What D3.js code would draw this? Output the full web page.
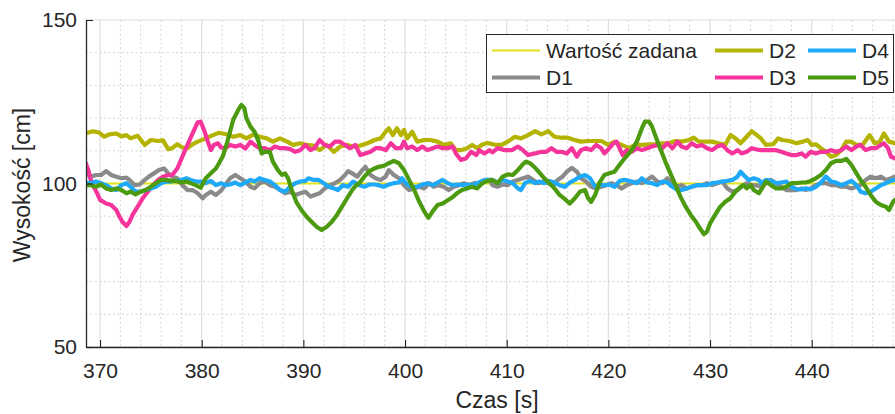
<!DOCTYPE html>
<html>
<head>
<meta charset="utf-8">
<script src="https://cdn.jsdelivr.net/npm/d3@7"></script>
<style>
  html, body { margin: 0; padding: 0; background: #fff; }
  svg { display: block; font-family: "Liberation Sans", Arial, Helvetica, sans-serif; }
</style>
</head>
<body>
<svg id="chart" width="895" height="414"></svg>
<script>
// Tick labels
const xTicks = [370, 380, 390, 400, 410, 420, 430, 440];
const yTicks = [50, 100, 150];

// Legend labels (column-major order, as in the legend box)
const seriesNames = ["Wartość zadana", "D1", "D2", "D3", "D4", "D5"];

// Set point [s, cm]
const setpoint = [[368.6, 100], [449.5, 100]];

// D1 [s, cm]
const d1 = [
  [368.6,103.4],[369.1,102.1],[369.6,102.6],[370.1,102.6],[370.6,103.8],[371.1,102.6],[371.6,102.1],
  [372.1,101.6],[372.6,101.8],[372.9,101.1],[373.4,99.5],[373.9,99.7],[374.4,101.1],[374.8,102.1],
  [375.3,103.1],[375.8,104.1],[376.3,104.6],[376.7,103.1],[377.1,102.1],[377.6,101.6],[378.1,99.5],
  [378.6,98.0],[379.1,98.0],[379.6,97.0],[380.1,95.5],[380.4,96.5],[380.9,97.5],[381.4,96.5],
  [381.9,97.8],[382.3,99.5],[382.8,101.6],[383.3,102.6],[383.8,101.6],[384.3,100.6],[384.8,99.0],
  [385.2,98.5],[385.7,100.1],[386.2,100.6],[386.7,99.5],[387.2,99.0],[387.7,98.0],[388.2,97.0],
  [388.7,97.5],[389.2,96.5],[389.7,97.0],[390.2,97.5],[390.7,96.0],[391.1,96.5],[391.6,97.0],
  [392.1,98.5],[392.6,99.5],[393.1,100.1],[393.6,101.1],[394.1,102.6],[394.4,103.8],[394.8,103.1],
  [395.3,102.1],[395.8,104.1],[396.1,105.1],[396.6,102.6],[397.1,101.6],[397.6,101.1],[398.1,102.1],
  [398.4,104.1],[398.9,102.6],[399.4,101.6],[399.9,99.5],[400.4,98.0],[400.9,98.5],[401.4,99.0],
  [401.9,98.5],[402.4,100.1],[402.8,99.0],[403.3,99.5],[403.8,99.0],[404.3,98.0],[404.8,99.0],
  [405.3,99.5],[405.8,100.1],[406.3,99.5],[406.8,100.1],[407.3,100.1],[407.8,101.1],[408.3,101.0],
  [408.6,99.5],[409.1,99.0],[409.6,99.7],[410.1,99.5],[410.6,100.6],[411.1,101.1],[411.6,101.6],
  [412.1,102.1],[412.6,101.1],[413.1,100.1],[413.6,100.6],[414.1,100.1],[414.6,99.5],[415.0,101.1],
  [415.5,102.1],[415.9,103.6],[416.4,104.8],[416.9,103.6],[417.3,101.6],[417.8,100.6],[418.3,99.0],
  [418.8,98.5],[419.3,99.0],[419.8,99.5],[420.3,100.1],[420.8,99.5],[421.3,98.5],[421.8,99.5],
  [422.3,100.1],[422.8,100.6],[423.3,100.1],[423.8,101.1],[424.3,102.1],[424.8,100.6],[425.3,100.1],
  [425.8,101.6],[426.3,100.1],[426.8,99.0],[427.2,99.5],[427.7,98.5],[428.2,99.0],[428.7,99.5],
  [429.2,99.5],[429.7,100.1],[430.2,99.5],[430.7,100.1],[431.2,100.6],[431.7,98.5],[432.2,97.5],
  [432.7,98.0],[433.1,99.0],[433.6,100.1],[434.1,99.5],[434.6,99.4],[435.0,99.0],[435.5,100.1],
  [436.0,101.1],[436.5,100.1],[437.0,99.0],[437.5,98.0],[438.0,98.0],[438.5,98.0],[439.0,98.5],
  [439.4,98.0],[439.9,98.5],[440.4,99.5],[440.9,100.1],[441.4,100.1],[441.9,99.5],[442.4,99.5],
  [442.9,99.0],[443.4,99.0],[443.9,98.5],[444.4,99.0],[444.8,99.5],[445.3,101.1],[445.8,102.1],
  [446.3,101.6],[446.8,102.1],[447.3,101.1],[447.8,101.6],[448.2,102.1]
];

// D2 [s, cm]
const d2 = [
  [368.6,115.4],[369.3,116.0],[369.9,115.6],[370.4,114.3],[370.9,115.0],[371.6,115.3],[372.1,114.4],
  [372.6,114.8],[373.0,113.8],[373.7,114.6],[374.4,111.8],[375.0,113.3],[375.7,113.0],[376.2,113.2],
  [376.7,110.5],[377.1,110.8],[377.6,112.0],[378.1,111.0],[378.6,110.8],[379.1,112.0],[379.6,112.8],
  [380.4,113.8],[381.1,114.8],[381.7,115.5],[382.5,115.0],[383.1,114.3],[383.8,114.8],[384.4,113.8],
  [385.1,115.0],[385.7,114.3],[386.4,113.8],[387.0,112.8],[387.7,113.8],[388.4,112.8],[389.0,111.8],
  [389.7,112.3],[390.3,111.8],[391.0,111.6],[391.6,110.2],[392.3,111.8],[393.0,109.7],[393.6,111.3],
  [394.3,111.8],[394.9,111.3],[395.6,111.6],[396.3,112.3],[397.0,113.3],[397.6,113.8],[398.1,115.8],
  [398.4,116.9],[398.8,114.8],[399.2,116.9],[399.6,114.8],[399.9,116.4],[400.2,113.8],[400.7,115.8],
  [401.2,112.8],[401.9,113.3],[402.5,113.3],[403.2,112.8],[403.8,111.8],[404.5,112.3],[405.0,110.2],
  [405.5,110.2],[406.1,110.8],[406.6,111.8],[407.1,110.8],[407.6,111.9],[408.1,112.4],[408.8,111.9],
  [409.5,111.8],[410.1,112.8],[410.8,114.3],[411.4,113.8],[412.1,114.8],[412.8,116.0],[413.4,115.0],
  [414.1,116.0],[414.7,114.3],[415.4,114.0],[416.0,114.0],[416.7,113.3],[417.3,112.8],[418.0,113.0],
  [418.7,113.0],[419.3,113.0],[420.0,111.8],[420.6,112.8],[421.3,111.8],[422.0,110.9],[422.7,111.8],
  [423.3,111.8],[424.0,112.0],[424.6,112.0],[425.3,112.3],[425.9,112.3],[426.6,113.0],[427.2,112.8],
  [427.9,113.3],[428.4,114.0],[428.9,112.8],[429.5,112.8],[430.2,112.8],[430.8,112.3],[431.5,111.8],
  [432.0,114.8],[432.5,113.8],[433.0,112.3],[433.6,114.3],[434.1,116.0],[434.6,114.8],[435.0,113.8],
  [435.5,111.8],[436.2,112.0],[436.7,113.8],[437.1,113.3],[437.8,113.0],[438.5,112.3],[439.1,112.8],
  [439.6,113.3],[440.0,111.8],[440.4,112.0],[440.9,110.8],[441.4,109.7],[441.9,108.2],[442.4,108.7],
  [442.9,110.2],[443.4,112.8],[443.9,112.8],[444.4,111.8],[445.0,111.8],[445.7,114.8],[446.2,112.3],
  [446.7,112.8],[447.1,115.3],[447.6,112.8],[448.2,112.3]
];

// D3 [s, cm]
const d3s = [
  [368.6,106.2],[368.9,103.6],[369.0,102.0],[369.3,99.5],[369.7,97.1],[370.0,95.0],[370.6,93.9],
  [371.1,93.4],[371.6,91.9],[371.9,89.9],[372.2,88.3],[372.6,87.0],[372.9,88.3],[373.2,90.4],
  [373.7,92.9],[374.2,95.5],[374.7,97.5],[375.2,99.5],[375.7,101.1],[376.2,102.1],[376.7,102.6],
  [377.1,102.6],[377.6,104.6],[378.1,108.2],[378.6,111.8],[379.1,115.3],[379.6,118.7],[379.9,118.9],
  [380.3,115.8],[380.6,112.8],[380.9,110.2],[381.2,111.8],[381.6,112.3],[381.9,111.0],[382.3,110.8],
  [382.8,111.8],[383.3,111.3],[383.8,111.8],[384.3,110.7],[384.8,112.8],[385.2,111.8],[385.7,110.8],
  [386.2,110.8],[386.7,110.2],[387.2,111.3],[387.7,110.8],[388.2,110.8],[388.7,110.5],[389.2,109.7],
  [389.7,110.2],[390.2,111.8],[390.7,110.2],[391.1,110.8],[391.6,113.3],[392.1,111.8],[392.6,111.3],
  [393.1,112.8],[393.6,112.8],[394.1,111.8],[394.6,110.8],[395.1,111.8],[395.6,108.7],[396.1,109.2],
  [396.6,109.7],[397.1,110.8],[397.6,110.8],[398.1,110.2],[398.6,112.3],[399.1,110.8],[399.6,110.8],
  [399.9,112.8],[400.2,110.8],[400.7,111.3],[401.2,110.2],[401.7,111.3],[402.2,110.2],[402.7,110.8],
  [403.2,111.3],[403.7,110.8],[404.2,110.8],[404.7,111.3],[405.0,109.2],[405.5,107.2],[406.0,107.7],
  [406.5,109.7],[407.0,108.7],[407.3,110.2],[407.8,109.2],[408.3,110.2],[408.6,109.5],[409.1,110.8],
  [409.8,110.2],[410.5,110.2],[411.1,111.3],[411.6,110.2],[412.1,108.7],[412.8,109.2],[413.4,109.7],
  [413.9,109.7],[414.4,110.8],[414.9,109.7],[415.4,109.7],[415.9,109.2],[416.4,110.8],[416.9,108.2],
  [417.3,110.2],[417.8,110.8],[418.3,110.2],[418.8,111.8],[419.3,110.8],[419.6,109.2],[420.1,110.8],
  [420.5,112.3],[420.8,112.8],[421.1,110.8],[421.4,108.7],[421.8,110.2],[422.3,109.7],[422.8,110.8],
  [423.3,110.2],[423.8,110.8],[424.3,111.3],[424.8,111.8],[425.3,110.8],[425.8,112.3],[426.3,110.8],
  [426.8,112.8],[427.2,111.3],[427.7,110.8],[428.2,112.3],[428.7,111.3],[429.2,111.8],[429.7,110.8],
  [430.2,110.2],[430.7,111.3],[431.2,111.8],[431.7,110.2],[432.2,109.2],[432.7,110.2],[433.1,109.2],
  [433.6,109.7],[434.1,110.8],[434.6,110.4],[435.0,110.2],[435.5,110.2],[436.0,110.2],[436.5,110.2],
  [437.0,109.7],[437.5,109.2],[438.0,108.7],[438.5,108.7],[439.0,109.2],[439.4,108.2],[439.9,109.7],
  [440.4,109.2],[440.9,109.7],[441.4,109.7],[441.9,110.2],[442.4,109.7],[442.9,110.2],[443.4,111.3],
  [443.9,110.2],[444.4,111.3],[444.8,111.8],[445.3,110.2],[445.8,110.8],[446.3,110.8],[446.8,111.8],
  [447.1,112.3],[447.5,110.8],[447.8,108.2],[448.2,107.7]
];

// D4 [s, cm]
const d4 = [
  [368.6,100.3],[369.1,100.1],[369.6,100.6],[370.1,100.1],[370.6,99.5],[371.1,98.5],[371.6,98.0],
  [372.1,99.5],[372.6,100.1],[373.0,99.0],[373.5,97.5],[374.0,97.5],[374.5,98.0],[375.0,98.5],
  [375.5,99.0],[376.0,100.1],[376.5,100.6],[377.0,100.6],[377.5,100.8],[378.0,101.1],[378.5,101.6],
  [378.9,101.1],[379.4,100.6],[379.9,100.6],[380.4,100.1],[380.9,100.8],[381.4,99.5],[381.9,100.1],
  [382.3,99.5],[382.8,99.7],[383.3,100.3],[383.8,99.5],[384.3,100.3],[384.8,101.1],[385.2,100.6],
  [385.7,101.6],[386.2,101.1],[386.7,100.6],[387.2,99.5],[387.7,98.0],[388.2,97.5],[388.7,99.0],
  [389.2,100.1],[389.7,100.6],[390.2,100.8],[390.5,101.6],[391.0,101.1],[391.5,101.1],[392.0,100.1],
  [392.5,99.0],[393.0,98.5],[393.4,98.0],[393.9,99.5],[394.4,99.0],[394.9,100.6],[395.5,99.5],
  [396.0,99.0],[396.5,99.7],[397.0,99.7],[397.4,99.5],[397.9,99.0],[398.4,99.7],[398.9,100.1],
  [399.4,100.3],[399.7,101.6],[400.2,99.7],[400.7,99.0],[401.2,99.0],[401.7,99.7],[402.2,100.1],
  [402.7,99.5],[403.2,100.3],[403.7,101.1],[404.2,100.1],[404.7,99.5],[405.1,99.7],[405.6,99.5],
  [406.1,99.7],[406.6,99.5],[407.1,100.1],[407.6,100.8],[408.1,101.1],[408.6,101.1],[409.1,100.3],
  [409.6,101.1],[410.1,100.6],[410.6,100.1],[411.1,98.5],[411.4,98.0],[411.8,100.1],[412.3,100.8],
  [412.8,100.1],[413.2,100.6],[413.7,100.1],[414.2,100.8],[414.7,100.3],[415.2,99.5],[415.7,99.0],
  [416.2,100.3],[416.7,101.1],[417.2,102.1],[417.7,102.6],[418.2,101.6],[418.7,99.0],[419.1,99.5],
  [419.6,99.5],[420.1,99.7],[420.6,99.0],[421.1,100.8],[421.6,101.1],[422.3,100.6],[422.8,100.1],
  [423.3,101.6],[423.8,100.3],[424.3,100.1],[424.8,99.5],[425.3,100.6],[425.8,100.3],[426.3,99.0],
  [426.8,98.0],[427.2,98.0],[427.7,98.5],[428.2,99.0],[428.7,99.5],[429.2,99.5],[429.7,99.5],
  [430.2,100.1],[430.7,100.3],[431.2,100.6],[431.7,100.8],[432.2,101.1],[432.7,102.1],[433.0,103.6],
  [433.3,102.6],[433.8,101.1],[434.3,101.6],[434.8,101.1],[435.0,100.1],[435.5,101.1],[436.0,100.8],
  [436.5,100.1],[437.0,100.3],[437.5,100.6],[438.0,99.0],[438.5,98.3],[439.0,98.2],[439.4,98.5],
  [439.9,98.2],[440.4,99.0],[440.9,100.3],[441.4,102.1],[441.9,100.6],[442.4,100.3],[442.9,99.5],
  [443.4,100.1],[443.9,100.8],[444.4,99.5],[444.8,97.5],[445.3,97.0],[445.8,97.5],[446.3,98.5],
  [446.8,99.5],[447.3,100.1],[447.8,100.8],[448.2,101.1]
];

// D5 [s, cm]
const d5 = [
  [368.6,99.5],[369.1,99.5],[369.6,99.0],[370.1,99.7],[370.6,98.5],[371.1,98.0],[371.6,98.5],
  [372.1,98.0],[372.6,97.0],[373.0,97.5],[373.5,96.7],[374.0,97.5],[374.5,98.0],[375.0,99.0],
  [375.5,100.1],[376.0,101.1],[376.5,101.1],[377.0,100.8],[377.5,100.8],[378.0,100.3],[378.5,100.6],
  [378.9,100.1],[379.4,99.5],[379.9,98.7],[380.4,101.6],[380.9,103.1],[381.4,104.6],[381.7,106.2],
  [382.1,108.5],[382.5,112.5],[382.8,116.0],[383.1,119.5],[383.6,122.5],[383.9,124.0],[384.2,123.0],
  [384.4,119.9],[384.8,117.4],[385.2,115.8],[385.6,112.8],[385.9,109.2],[386.2,109.7],[386.7,109.7],
  [387.0,106.7],[387.5,104.1],[387.9,102.6],[388.2,103.1],[388.5,101.6],[388.8,98.5],[389.3,94.4],
  [389.8,91.9],[390.3,89.9],[390.8,88.3],[391.3,86.8],[391.8,85.8],[392.3,86.8],[392.8,88.3],
  [393.3,90.4],[393.8,92.9],[394.3,95.5],[394.8,98.0],[395.2,99.5],[395.5,100.1],[396.0,102.1],
  [396.5,103.8],[397.0,104.6],[397.4,105.1],[397.9,105.4],[398.4,106.2],[398.9,106.9],[399.4,106.2],
  [399.9,104.1],[400.4,101.1],[400.9,98.0],[401.4,94.4],[401.9,91.4],[402.3,89.5],[402.7,91.4],
  [403.2,93.4],[403.7,93.9],[404.2,94.9],[404.7,95.9],[405.1,97.0],[405.6,98.0],[406.1,98.5],
  [406.6,99.0],[407.1,98.5],[407.6,100.1],[408.1,100.8],[408.6,101.1],[409.1,100.1],[409.6,102.1],
  [410.1,102.8],[410.6,102.6],[411.1,104.1],[411.6,105.9],[411.9,106.7],[412.3,106.2],[412.8,104.8],
  [413.2,103.4],[413.7,101.6],[414.2,100.1],[414.7,98.5],[415.2,96.5],[415.7,95.3],[416.2,93.9],
  [416.7,95.5],[417.2,97.5],[417.7,98.0],[418.0,95.5],[418.3,94.4],[418.7,96.5],[419.1,100.1],
  [419.6,102.6],[420.1,103.1],[420.6,103.6],[421.1,105.7],[421.6,107.7],[422.3,110.2],[422.8,112.8],
  [423.3,116.9],[423.6,118.9],[424.0,118.9],[424.3,117.4],[424.6,114.8],[425.1,110.7],[425.6,106.7],
  [426.1,103.1],[426.6,99.5],[427.1,95.9],[427.6,92.9],[428.1,90.4],[428.6,88.3],[429.0,86.3],
  [429.4,84.5],[429.7,85.3],[430.0,87.8],[430.5,90.4],[431.0,92.9],[431.5,94.4],[432.0,95.5],
  [432.5,97.5],[433.0,99.0],[433.3,99.5],[433.6,98.5],[434.0,99.5],[434.3,98.0],[434.8,97.0],
  [435.2,99.0],[435.5,100.6],[436.0,99.5],[436.5,98.5],[437.0,98.5],[437.5,99.0],[438.0,100.1],
  [438.5,100.1],[439.0,100.3],[439.4,100.3],[439.9,100.8],[440.4,101.6],[440.9,102.6],[441.4,104.1],
  [441.9,106.2],[442.4,106.9],[442.9,106.9],[443.4,107.5],[443.9,105.7],[444.4,103.1],[444.8,101.1],
  [445.3,99.0],[445.8,96.5],[446.3,94.4],[446.8,93.4],[447.3,92.9],[447.6,91.9],[448.0,94.4],
  [448.2,95.0]
];

const seriesData = [setpoint, d1, d2, d3s, d4, d5];
const seriesColors = ["#e2e21c", "#8a8a8a", "#b3b300", "#f5359b", "#1ea9fa", "#4b9a10"];
const seriesWidths = [2.2, 4.2, 4.2, 4.2, 4.2, 4.2];

// ---- layout ----
const svg = d3.select("#chart");
const plotLeft = 86, plotTop = 20, plotBottom = 347, plotRight = 908;
const axisColor = "#262626";

const x = d3.scaleLinear().domain([368.62, 449.47]).range([plotLeft, plotRight]);
const y = d3.scaleLinear().domain([50, 150]).range([plotBottom, plotTop]);

// minor grid (dotted)
const minorX = d3.range(370, 450, 2).filter(v => !xTicks.includes(v));
const minorY = d3.range(60, 150, 10).filter(v => !yTicks.includes(v));
const grid = svg.append("g");
grid.selectAll(".mx").data(minorX).join("line")
  .attr("x1", d => x(d)).attr("x2", d => x(d)).attr("y1", plotTop).attr("y2", plotBottom)
  .attr("stroke", "#d4d4d4").attr("stroke-width", 1).attr("stroke-dasharray", "2,2.5");
grid.selectAll(".my").data(minorY).join("line")
  .attr("x1", plotLeft).attr("x2", plotRight).attr("y1", d => y(d)).attr("y2", d => y(d))
  .attr("stroke", "#d4d4d4").attr("stroke-width", 1).attr("stroke-dasharray", "2,2.5");
// major grid (solid)
grid.selectAll(".gx").data(xTicks).join("line")
  .attr("x1", d => x(d)).attr("x2", d => x(d)).attr("y1", plotTop).attr("y2", plotBottom)
  .attr("stroke", "#dedede").attr("stroke-width", 1.2);
grid.selectAll(".gy").data(yTicks).join("line")
  .attr("x1", plotLeft).attr("x2", plotRight).attr("y1", d => y(d)).attr("y2", d => y(d))
  .attr("stroke", "#dedede").attr("stroke-width", 1.2);

// data lines
svg.append("clipPath").attr("id", "plotClip")
  .append("rect").attr("x", plotLeft).attr("y", plotTop)
  .attr("width", plotRight - plotLeft).attr("height", plotBottom - plotTop);

const line = d3.line().x(d => x(d[0])).y(d => y(d[1]));
svg.append("g").attr("clip-path", "url(#plotClip)")
  .selectAll("path").data(seriesData).join("path")
  .attr("d", d => line(d))
  .attr("fill", "none")
  .attr("stroke", (d, i) => seriesColors[i])
  .attr("stroke-width", (d, i) => seriesWidths[i])
  .attr("stroke-linejoin", "round")
  .attr("stroke-linecap", "round");

// axes
const xAxis = svg.append("g").attr("transform", `translate(0,${plotBottom})`)
  .call(d3.axisBottom(x).tickValues(xTicks).tickSizeInner(-7).tickSizeOuter(0).tickPadding(16));
const yAxis = svg.append("g").attr("transform", `translate(${plotLeft},0)`)
  .call(d3.axisLeft(y).tickValues(yTicks).tickSizeInner(-7).tickSizeOuter(0).tickPadding(9));
[xAxis, yAxis].forEach(g => {
  g.select(".domain").attr("stroke", axisColor).attr("stroke-width", 1.3);
  g.selectAll(".tick line").attr("stroke", axisColor).attr("stroke-width", 1.1);
  g.selectAll(".tick text").attr("fill", axisColor).attr("font-size", 21)
    .attr("font-family", "'Liberation Sans', Arial, sans-serif");
});

// axis titles
svg.append("text").attr("x", 497).attr("y", 408).attr("text-anchor", "middle")
  .attr("font-size", 23).attr("fill", axisColor).text("Czas [s]");
svg.append("text").attr("transform", "translate(30,185) rotate(-90)").attr("text-anchor", "middle")
  .attr("font-size", 23).attr("fill", axisColor).text("Wysokość [cm]");

// legend
const lg = svg.append("g");
lg.append("rect").attr("x", 486.5).attr("y", 34.5).attr("width", 407).attr("height", 58)
  .attr("fill", "#fff").attr("stroke", axisColor).attr("stroke-width", 1);
const colX = [492, 715, 808];
const rowY = [50.5, 77.5];
const entries = seriesNames.map((name, i) => ({
  name, color: seriesColors[i], width: seriesWidths[i],
  lx: colX[Math.floor(i / 2)], ly: rowY[i % 2]
}));
const item = lg.selectAll("g.item").data(entries).join("g").attr("class", "item");
item.append("line")
  .attr("x1", d => d.lx).attr("x2", d => d.lx + 48)
  .attr("y1", d => d.ly).attr("y2", d => d.ly)
  .attr("stroke", d => d.color).attr("stroke-width", d => d.width);
item.append("text")
  .attr("x", d => d.lx + 54).attr("y", d => d.ly).attr("dy", "0.35em")
  .attr("font-size", 21).attr("fill", axisColor).text(d => d.name);
</script>
</body>
</html>
